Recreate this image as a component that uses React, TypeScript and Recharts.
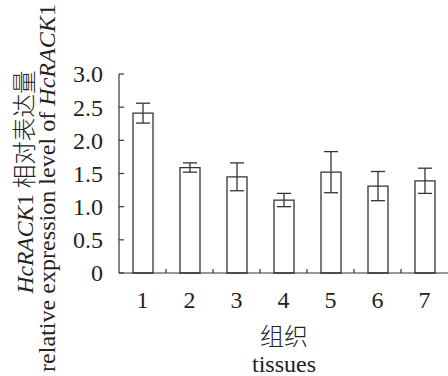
import { BarChart, Bar, XAxis, YAxis, ErrorBar } from 'recharts';

// tissue index 1..7, relative expression (mean) and error
const tissues = [1, 2, 3, 4, 5, 6, 7];
const expression = [2.41, 1.59, 1.45, 1.1, 1.52, 1.31, 1.39];
const errors = [0.15, 0.07, 0.21, 0.1, 0.31, 0.22, 0.19];

const yTicks = [0, 0.5, 1, 1.5, 2, 2.5, 3];
// labels sit on whole numbers, small ticks sit between the bars
const xTicks = [1, 1.5, 2, 2.5, 3, 3.5, 4, 4.5, 5, 5.5, 6, 6.5, 7];

const FONT = "'Liberation Serif', 'Times New Roman', 'Noto Sans CJK SC', serif";
const INK = '#222';
const LINE = '#333';

const chartData = tissues.map((t, i) => ({ x: t, value: expression[i], err: errors[i] }));

const YTick = (props: any) => {
  const { x, y, payload } = props;
  const v = payload.value as number;
  return (
    <g>
      <line x1={x} y1={y} x2={x + 5} y2={y} stroke={LINE} strokeWidth={1.2} />
      <text x={x - 16} y={y} dy="0.35em" textAnchor="end" fontSize={24} fontFamily={FONT} fill={INK}>
        {v === 0 ? '0' : v.toFixed(1)}
      </text>
    </g>
  );
};

const XTick = (props: any) => {
  const { x, y, payload } = props;
  const v = payload.value as number;
  if (!Number.isInteger(v)) {
    return <line x1={x} y1={y} x2={x} y2={y - 4} stroke={LINE} strokeWidth={1.2} />;
  }
  return (
    <text x={x} y={y + 35} textAnchor="middle" fontSize={24} fontFamily={FONT} fill={INK}>
      {v}
    </text>
  );
};

const YTitle = () => (
  <g fontFamily={FONT} fontSize={24} fill={INK}>
    <text
      x={33}
      y={182}
      transform="rotate(-90 33 182)"
      textAnchor="middle"
      textLength={223}
      lengthAdjust="spacingAndGlyphs"
    >
      <tspan fontStyle="italic">HcRACK</tspan>
      <tspan>1 </tspan>
      <tspan fontWeight={300}>相对表达量</tspan>
    </text>
    <text
      x={55}
      y={188}
      transform="rotate(-90 55 188)"
      textAnchor="middle"
      textLength={368}
      lengthAdjust="spacingAndGlyphs"
    >
      <tspan>relative expression level of </tspan>
      <tspan fontStyle="italic">HcRACK</tspan>
      <tspan>1</tspan>
    </text>
  </g>
);

const XTitle = () => (
  <g fontFamily={FONT} fontSize={24} fill={INK}>
    <text x={284} y={345} textAnchor="middle" fontWeight={300}>组织</text>
    <text x={284} y={372} textAnchor="middle">tissues</text>
  </g>
);

export default function App() {
  return (
    <div style={{ position: 'absolute', left: 0, top: 0, background: '#fff' }}>
      <BarChart width={448} height={376} data={chartData} margin={{ top: 74, right: 0, bottom: 0, left: 0 }}>
        <XAxis
          dataKey="x"
          type="number"
          domain={[0.5, 7.5]}
          ticks={xTicks}
          interval={0}
          tickSize={0}
          tickMargin={0}
          tickLine={false}
          tick={<XTick />}
          height={103}
          axisLine={{ stroke: LINE, strokeWidth: 1.2 }}
          label={{ content: () => <XTitle /> }}
        />
        <YAxis
          type="number"
          domain={[0, 3]}
          ticks={yTicks}
          interval={0}
          width={119}
          tickSize={0}
          tickMargin={0}
          tickLine={false}
          tick={<YTick />}
          axisLine={{ stroke: LINE, strokeWidth: 1.2 }}
          label={{ content: () => <YTitle /> }}
        />
        <Bar dataKey="value" fill="#fff" stroke={LINE} strokeWidth={1.3} barSize={20} isAnimationActive={false}>
          <ErrorBar dataKey="err" direction="y" width={7} stroke={LINE} strokeWidth={1.3} />
        </Bar>
      </BarChart>
    </div>
  );
}
